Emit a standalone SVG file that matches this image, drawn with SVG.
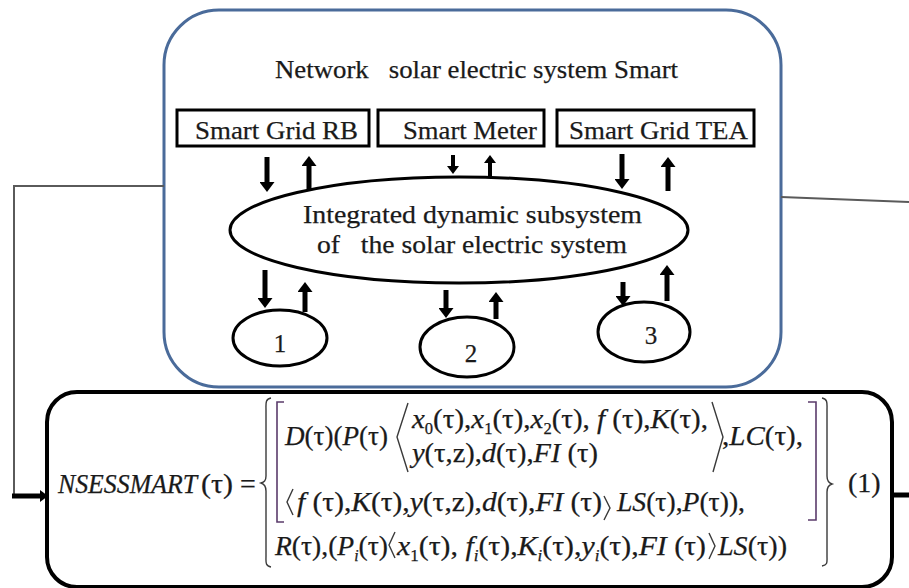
<svg xmlns="http://www.w3.org/2000/svg" width="909" height="588" viewBox="0 0 909 588">
  <style>
    .t { font-family: "Liberation Serif", "Times New Roman", serif; fill: #1a1a1a; stroke: #1a1a1a; stroke-width: 0.25; }
    .lbl { font-size: 26px; }
    .num { font-size: 25px; }
    .ttl { font-size: 26px; }
    .eq { font-size: 28px; }
    .i { font-style: italic; }
    .sub { font-size: 16px; }
    .box { fill: #fff; stroke: #000; stroke-width: 3; }
    .arr { stroke: #000; stroke-width: 5; fill: none; marker-end: url(#head); }
    .arr-s { stroke: #000; stroke-width: 4; fill: none; marker-end: url(#head); }
    .wire { stroke: #5a5a5a; stroke-width: 2; fill: none; }
    .delim { fill: none; stroke: #3a3a3a; stroke-width: 1.4; stroke-linejoin: miter; }
    .sq { fill: none; stroke: #5b3b6b; stroke-width: 1.6; }
  </style>
  <defs>
    <marker id="head" viewBox="0 0 10 10" refX="0" refY="5" markerWidth="2" markerHeight="3" preserveAspectRatio="none" orient="auto" markerUnits="strokeWidth">
      <path d="M0,0 L10,5 L0,10 z" fill="#000"/>
    </marker>
  </defs>

  <rect width="909" height="588" fill="#fff"/>

  <!-- outer smart system container -->
  <g id="node-system">
    <rect x="164" y="10" width="617" height="377" rx="55" ry="55" fill="#fff" stroke="#4a6b9a" stroke-width="3"/>
    <text class="t ttl" x="275" y="78" xml:space="preserve" textLength="403" lengthAdjust="spacingAndGlyphs">Network   solar electric system Smart</text>
  </g>

  <!-- links between the system and the formula block -->
  <g id="connectors">
    <polyline class="wire" points="164,186 14,186 14,496"/>
    <line x1="12" y1="496" x2="41" y2="496" stroke="#000" stroke-width="5"/>
    <path d="M40,490 L48,496 L40,502 z" fill="#000"/>
    <line class="wire" x1="781" y1="197" x2="909" y2="202"/>
    <line x1="892" y1="495" x2="909" y2="495" stroke="#000" stroke-width="5"/>

    <!-- grid blocks <-> integrated subsystem -->
    <line class="arr" x1="267" y1="157" x2="267" y2="182"/>
    <line class="arr" x1="309" y1="189" x2="309" y2="166"/>
    <line class="arr-s" x1="453" y1="155" x2="453" y2="166"/>
    <line class="arr-s" x1="490" y1="176" x2="490" y2="163"/>
    <line class="arr" x1="622" y1="154" x2="622" y2="179"/>
    <line class="arr" x1="668" y1="191" x2="668" y2="167"/>

    <!-- integrated subsystem <-> numbered units -->
    <line class="arr" x1="265" y1="270" x2="265" y2="298"/>
    <line class="arr" x1="305" y1="312" x2="305" y2="292"/>
    <line class="arr" x1="446" y1="290" x2="446" y2="308"/>
    <line class="arr" x1="496" y1="319" x2="496" y2="302"/>
    <line class="arr" x1="623" y1="282" x2="623" y2="296"/>
    <line class="arr" x1="667" y1="301" x2="667" y2="275"/>
  </g>

  <g id="node-rb">
    <rect class="box" x="177" y="110" width="192" height="36"/>
    <text class="t lbl" x="195" y="139" textLength="163" lengthAdjust="spacingAndGlyphs">Smart Grid RB</text>
  </g>
  <g id="node-meter">
    <rect class="box" x="378" y="110" width="166" height="36"/>
    <text class="t lbl" x="403" y="139" textLength="134" lengthAdjust="spacingAndGlyphs">Smart Meter</text>
  </g>
  <g id="node-tea">
    <rect class="box" x="557" y="110" width="197" height="36"/>
    <text class="t lbl" x="569" y="139" textLength="179" lengthAdjust="spacingAndGlyphs">Smart Grid TEA</text>
  </g>

  <g id="node-integrated">
    <ellipse cx="459" cy="230" rx="229" ry="53" fill="#fff" stroke="#000" stroke-width="3"/>
    <text class="t ttl" x="303" y="223" textLength="339" lengthAdjust="spacingAndGlyphs">Integrated dynamic subsystem</text>
    <text class="t ttl" x="317" y="253" xml:space="preserve" textLength="310" lengthAdjust="spacingAndGlyphs">of   the solar electric system</text>
  </g>

  <g id="node-sub1">
    <ellipse cx="280" cy="338" rx="47" ry="28" fill="#fff" stroke="#000" stroke-width="3"/>
    <text class="t num" x="280" y="352" text-anchor="middle">1</text>
  </g>
  <g id="node-sub2">
    <ellipse cx="467" cy="347" rx="47" ry="30" fill="#fff" stroke="#000" stroke-width="3"/>
    <text class="t num" x="471" y="362" text-anchor="middle">2</text>
  </g>
  <g id="node-sub3">
    <ellipse cx="644" cy="332" rx="46" ry="30" fill="#fff" stroke="#000" stroke-width="3"/>
    <text class="t num" x="651" y="344" text-anchor="middle">3</text>
  </g>

  <!-- formula block -->
  <g id="node-formula">
    <rect x="47" y="392" width="845" height="195" rx="30" ry="30" fill="#fff" stroke="#000" stroke-width="4"/>

    <text class="t i" x="58" y="493" font-size="27" textLength="139" lengthAdjust="spacingAndGlyphs">NSESSMART</text>
    <text class="t" x="201" y="493" font-size="27" textLength="32" lengthAdjust="spacingAndGlyphs">(τ)</text>
    <text class="t eq" x="240" y="493">=</text>

    <!-- outer braces and brackets -->
    <path class="delim" d="M271,398 C265,399 266,404 266,410 L266,476 C266,481 264,482 261,483 C264,484 266,486 266,491 L266,556 C266,562 265,566 271,567"/>
    <path class="sq" d="M284,402 H277 V522 H284"/>
    <path class="sq" d="M808,402 H816 V520 H808"/>
    <path class="delim" d="M822,398 C828,399 827,404 827,410 L827,476 C827,481 829,483 832,484 C829,485 827,487 827,492 L827,556 C827,562 828,565 822,566"/>

    <!-- row 1 and 2 -->
    <text class="t eq" x="285" y="445" textLength="103" lengthAdjust="spacingAndGlyphs"><tspan class="i">D</tspan>(τ)(<tspan class="i">P</tspan>(τ)</text>
    <path class="delim" d="M408,403 L397,437 L408,472"/>
    <text class="t eq" x="412" y="428" textLength="296" lengthAdjust="spacingAndGlyphs"><tspan class="i">x</tspan><tspan class="sub" dy="6">0</tspan><tspan dy="-6">(τ),</tspan><tspan class="i">x</tspan><tspan class="sub" dy="6">1</tspan><tspan dy="-6">(τ),</tspan><tspan class="i">x</tspan><tspan class="sub" dy="6">2</tspan><tspan dy="-6">(τ), </tspan><tspan class="i">f</tspan> (τ),<tspan class="i">K</tspan>(τ),</text>
    <text class="t eq" x="412" y="462" textLength="186" lengthAdjust="spacingAndGlyphs"><tspan class="i">y</tspan>(τ,z),<tspan class="i">d</tspan>(τ),<tspan class="i">FI</tspan> (τ)</text>
    <path class="delim" d="M712,402 L723,437 L713,472"/>
    <text class="t eq" x="722" y="445" textLength="81" lengthAdjust="spacingAndGlyphs">,<tspan class="i">LC</tspan>(τ),</text>

    <!-- row 3 -->
    <path class="delim" d="M293,489 L287,502 L293,515"/>
    <text class="t eq" x="297" y="511" textLength="305" lengthAdjust="spacingAndGlyphs"><tspan class="i">f</tspan> (τ),<tspan class="i">K</tspan>(τ),<tspan class="i">y</tspan>(τ,z),<tspan class="i">d</tspan>(τ),<tspan class="i">FI</tspan> (τ)</text>
    <path class="delim" d="M604,496 L610,508 L604,520"/>
    <text class="t eq" x="617" y="511" textLength="128" lengthAdjust="spacingAndGlyphs"><tspan class="i">LS</tspan>(τ),<tspan class="i">P</tspan>(τ)),</text>

    <!-- row 4 -->
    <text class="t eq" x="275" y="555" textLength="113" lengthAdjust="spacingAndGlyphs"><tspan class="i">R</tspan>(τ),(<tspan class="i">P</tspan><tspan class="sub i" dy="6">i</tspan><tspan dy="-6">(τ)</tspan></text>
    <path class="delim" d="M395,532 L389,545 L395,558"/>
    <text class="t eq" x="397" y="555" textLength="309" lengthAdjust="spacingAndGlyphs"><tspan class="i">x</tspan><tspan class="sub" dy="6">1</tspan><tspan dy="-6">(τ), </tspan><tspan class="i">f</tspan><tspan class="sub i" dy="6">i</tspan><tspan dy="-6">(τ),</tspan><tspan class="i">K</tspan><tspan class="sub i" dy="6">i</tspan><tspan dy="-6">(τ),</tspan><tspan class="i">y</tspan><tspan class="sub i" dy="6">i</tspan><tspan dy="-6">(τ),</tspan><tspan class="i">FI</tspan> (τ)</text>
    <path class="delim" d="M709,533 L715,546 L709,559"/>
    <text class="t eq" x="718" y="555" textLength="69" lengthAdjust="spacingAndGlyphs"><tspan class="i">LS</tspan>(τ))</text>

    <text class="t eq" x="848" y="492">(1)</text>
  </g>
</svg>
